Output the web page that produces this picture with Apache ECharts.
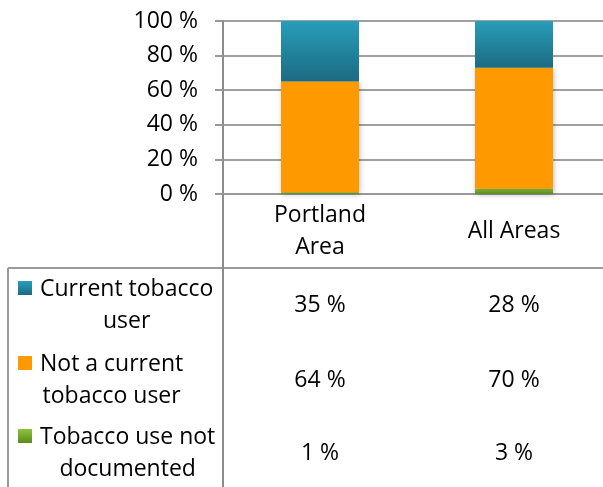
<!DOCTYPE html>
<html>
<head>
<meta charset="utf-8">
<script src="https://cdn.jsdelivr.net/npm/echarts@6/dist/echarts.min.js"></script>
<style>
html,body{margin:0;padding:0;background:#fff;}
#c{width:603px;height:487px;}
</style>
</head>
<body>
<div id="c"></div>
<script>
// ---- data ----
const categories = ['Portland\nArea', 'All Areas'];
const seriesNames = ['Current tobacco user', 'Not a current tobacco user', 'Tobacco use not documented'];
const legendLines = [['Current tobacco', 'user'], ['Not a current', 'tobacco user'], ['Tobacco use not', 'documented']];
const currentUser = [35, 28];
const notCurrentUser = [64, 70];
const notDocumented = [1, 3];
const yMin = 0, yMax = 100, yInterval = 20;

// ---- style ----
const FONT = 'Open Sans';
const FS = 23;
const tealGrad = () => new echarts.graphic.LinearGradient(0, 0, 0, 1, [{offset: 0, color: '#289DB9'}, {offset: 1, color: '#1C6B82'}]);
const greenGrad = () => new echarts.graphic.LinearGradient(0, 0, 0, 1, [{offset: 0, color: '#8CC43A'}, {offset: 1, color: '#5B8A1E'}]);
const orange = '#FE9900';
const barShadow = {shadowBlur: 5, shadowColor: 'rgba(0,0,0,0.25)', shadowOffsetX: 1, shadowOffsetY: 1};

const GRID_LEFT = 223;
const chart = echarts.init(document.getElementById('c'), null, {renderer: 'canvas'});

const rowValues = [currentUser, notCurrentUser, notDocumented];
const rowColors = [tealGrad(), orange, greenGrad()];

const option = {
  animation: false,
  backgroundColor: '#fff',
  grid: {left: GRID_LEFT, top: 21, height: 173, width: 388, containLabel: false, outerBoundsMode: 'none'},
  xAxis: {
    type: 'category',
    data: categories,
    axisLine: {show: true, lineStyle: {color: '#999', width: 2}},
    axisTick: {show: false},
    axisLabel: {fontFamily: FONT, fontSize: FS, color: '#000', lineHeight: 32, verticalAlign: 'middle', margin: 37}
  },
  yAxis: {
    type: 'value',
    min: yMin, max: yMax, interval: yInterval,
    axisLine: {show: true, lineStyle: {color: '#8C8C8C', width: 2}},
    axisTick: {show: true, length: 8, lineStyle: {color: '#999', width: 2}},
    axisLabel: {fontFamily: FONT, fontSize: FS, color: '#000', margin: 25, formatter: '{value} %'},
    splitLine: {show: true, lineStyle: {color: '#A0A0A0', width: 2}}
  },
  series: [
    {name: seriesNames[2], type: 'bar', stack: 't', data: notDocumented, barWidth: 78, itemStyle: Object.assign({color: greenGrad()}, barShadow)},
    {name: seriesNames[1], type: 'bar', stack: 't', data: notCurrentUser, barWidth: 78, itemStyle: Object.assign({color: orange}, barShadow)},
    {name: seriesNames[0], type: 'bar', stack: 't', data: currentUser, barWidth: 78, itemStyle: Object.assign({color: tealGrad()}, barShadow)}
  ]
};
chart.setOption(option);

// ---- data table (graphic) ----
const axisX = GRID_LEFT;
const baseY = chart.convertToPixel({yAxisIndex: 0}, 0);
const tableTop = 268, tableLeft = 8, H = 487, W = 603;
const rowCenters = [305, 380, 453];
const lineH = 32;

const mctx = document.createElement('canvas').getContext('2d');
mctx.font = FS + 'px "' + FONT + '"';

const g = [];
const lineStyle = {stroke: '#9A9A9A', lineWidth: 2};
g.push({type: 'line', shape: {x1: tableLeft, y1: tableTop, x2: W, y2: tableTop}, style: lineStyle, z: 10});
g.push({type: 'line', shape: {x1: tableLeft, y1: tableTop, x2: tableLeft, y2: H}, style: lineStyle, z: 10});
g.push({type: 'line', shape: {x1: axisX, y1: baseY, x2: axisX, y2: H}, style: {stroke: '#8C8C8C', lineWidth: 2}, z: 10});

legendLines.forEach((lines, i) => {
  const w = Math.max(...lines.map(l => mctx.measureText(l).width));
  const textLeft = 40;
  const cx = textLeft + w / 2;
  const cy = rowCenters[i];
  g.push({type: 'text', x: cx, y: cy, style: {text: lines.join('\n'), fontFamily: FONT, fontSize: FS, fill: '#000', align: 'center', verticalAlign: 'middle', lineHeight: lineH}, z: 10});
  g.push({type: 'rect', shape: {x: 18, y: cy - lineH / 2 - 8, width: 14, height: 14}, style: {fill: rowColors[i]}, z: 10});
  rowValues[i].forEach((v, j) => {
    const px = chart.convertToPixel({xAxisIndex: 0}, categories[j]);
    g.push({type: 'text', x: px, y: cy, style: {text: v + ' %', fontFamily: FONT, fontSize: FS, fill: '#000', align: 'center', verticalAlign: 'middle'}, z: 10});
  });
});
chart.setOption({graphic: g});
</script>
</body>
</html>
